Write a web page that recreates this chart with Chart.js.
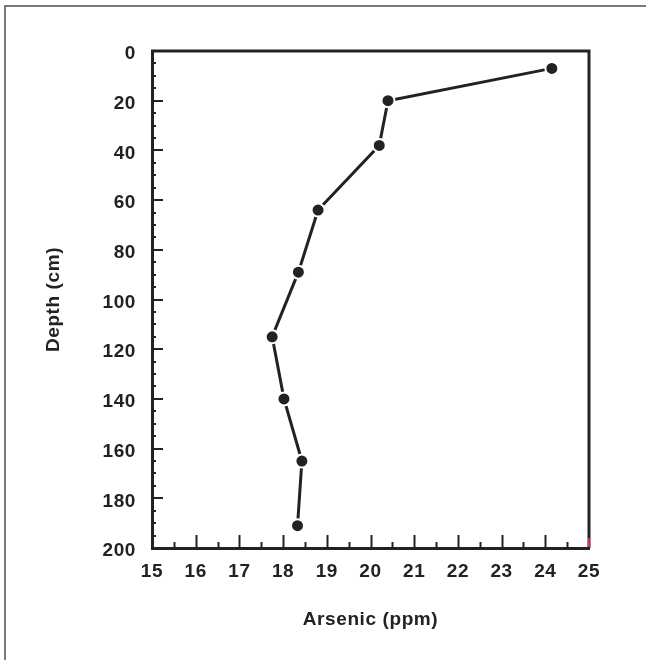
<!DOCTYPE html>
<html>
<head>
<meta charset="utf-8">
<script src="https://cdn.jsdelivr.net/npm/chart.js@4"></script>
<style>
  html, body { margin: 0; padding: 0; background: #fff; }
  #wrap { position: relative; width: 646px; height: 660px; }
  #frame {
    position: absolute; left: 4px; top: 5px; width: 650px; height: 700px;
    border-top: 2px solid #7a7a7a; border-left: 2px solid #7a7a7a;
    pointer-events: none;
  }
</style>
</head>
<body>
<div id="wrap">
  <canvas id="profileChart" width="646" height="660"></canvas>
  <div id="frame"></div>
</div>
<script>
// Arsenic depth profile
const arsenicPpm = [24.15, 20.4, 20.2, 18.8, 18.35, 17.75, 18.02, 18.43, 18.33];
const depthCm = [7, 20, 38, 64, 89, 115, 140, 165, 191];
const xRange = [15, 25];
const yRange = [0, 200];

const ink = '#222222';
const font = { family: 'Liberation Sans, Arial, sans-serif', size: 19, weight: 'bold' };

// inward ticks + top/right frame of the plot box
const boxPlugin = {
    id: 'box',
    beforeDraw(chart) {
        chart.ctx.letterSpacing = '0.6px';
    },
    afterDraw(chart) {
        const { ctx, chartArea: a, scales: { x, y } } = chart;
        ctx.save();
        ctx.letterSpacing = '0px';
        ctx.strokeStyle = ink;
        ctx.lineWidth = 2;
        ctx.beginPath();
        for (let v = xRange[0] + 0.5; v < xRange[1]; v += 0.5) {
            const px = Math.round(x.getPixelForValue(v)) + 0.5;
            const len = Number.isInteger(v) ? 13 : 6;
            ctx.moveTo(px, a.bottom);
            ctx.lineTo(px, a.bottom - len);
        }
        for (let v = yRange[0] + 5; v < yRange[1]; v += 5) {
            const py = Math.round(y.getPixelForValue(v));
            const len = v % 20 === 0 ? 11 : 4;
            ctx.moveTo(a.left, py);
            ctx.lineTo(a.left + len, py);
        }
        ctx.stroke();

        ctx.lineWidth = 3;
        ctx.beginPath();
        ctx.moveTo(a.left - 1, a.top);
        ctx.lineTo(a.right, a.top);
        ctx.lineTo(a.right, a.bottom);
        ctx.stroke();

        ctx.strokeStyle = '#e0207a';
        ctx.lineWidth = 2;
        ctx.beginPath();
        ctx.moveTo(a.right, a.bottom - 10);
        ctx.lineTo(a.right, a.bottom - 1);
        ctx.stroke();
        ctx.restore();
    }
};

new Chart(document.getElementById('profileChart'), {
    type: 'scatter',
    data: {
        datasets: [{
            data: arsenicPpm.map((v, i) => ({ x: v, y: depthCm[i] })),
            showLine: true,
            borderColor: ink,
            borderWidth: 3,
            pointRadius: 6.5,
            pointBackgroundColor: ink,
            pointBorderColor: '#ffffff',
            pointBorderWidth: 2
        }]
    },
    options: {
        responsive: false,
        animation: false,
        events: [],
        layout: { padding: { left: 0, top: 51, right: 57, bottom: 0 } },
        plugins: { legend: { display: false }, tooltip: { enabled: false } },
        scales: {
            x: {
                type: 'linear',
                min: xRange[0],
                max: xRange[1],
                afterFit(s) { s.height = 112; },
                grid: { display: false, drawTicks: false },
                border: { display: true, color: ink, width: 3 },
                ticks: { stepSize: 1, color: ink, font, padding: 12, maxRotation: 0 },
                title: { display: true, text: 'Arsenic (ppm)', color: ink, font, padding: { bottom: 29 } }
            },
            y: {
                type: 'linear',
                reverse: true,
                min: yRange[0],
                max: yRange[1],
                afterFit(s) { s.width = 152; },
                grid: { display: false, drawTicks: false },
                border: { display: true, color: ink, width: 3 },
                ticks: { stepSize: 20, color: ink, font, padding: 16, labelOffset: 3 },
                title: { display: true, text: 'Depth (cm)', color: ink, font, padding: { top: 42 } }
            }
        }
    },
    plugins: [boxPlugin]
});
</script>
</body>
</html>
